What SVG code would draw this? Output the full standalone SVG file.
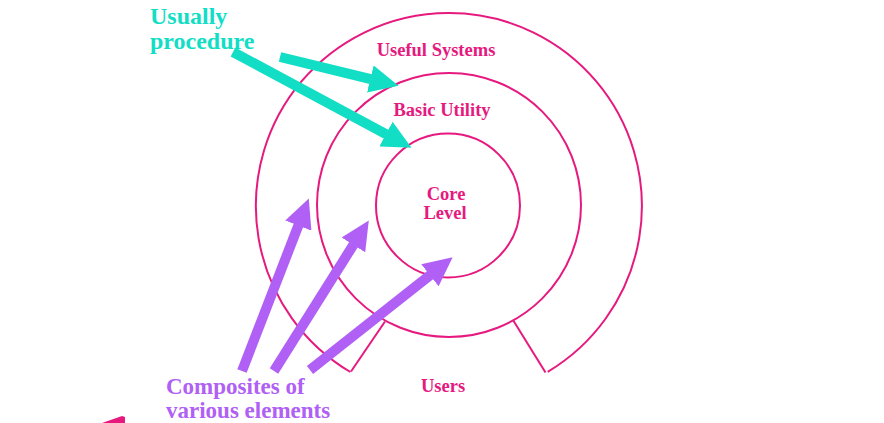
<svg xmlns="http://www.w3.org/2000/svg" width="884" height="423" viewBox="0 0 884 423">
<style>
.ring{fill:none;stroke:#E6197F;stroke-width:2}
.lbl{font-family:"Liberation Serif","Times New Roman",serif;font-weight:bold;font-size:18.5px;fill:#E6197F;text-anchor:middle}
.teal{font-family:"Liberation Serif","Times New Roman",serif;font-weight:bold;font-size:24px;fill:#12DEC6}
.purp{font-family:"Liberation Serif","Times New Roman",serif;font-weight:bold;font-size:23px;fill:#B060F5}
.ta{stroke:#12DEC6;stroke-width:10;fill:none;marker-end:url(#headT)}
.pa{stroke:#B060F5;stroke-width:10;fill:none;marker-end:url(#headP)}
</style>
<defs>
<marker id="headT" markerUnits="userSpaceOnUse" viewBox="0 0 29 28" markerWidth="29" markerHeight="28" refX="0.5" refY="14" orient="auto"><path d="M0,0 L29,14 L0,28 Z" fill="#12DEC6"/></marker>
<marker id="headP" markerUnits="userSpaceOnUse" viewBox="0 0 29 28" markerWidth="29" markerHeight="28" refX="0.5" refY="14" orient="auto"><path d="M0,0 L29,14 L0,28 Z" fill="#B060F5"/></marker>
</defs>
<rect width="884" height="423" fill="#ffffff"/>
<g id="useful-systems">
<path class="ring" d="M350.4,372 A193,193 0 1 1 547.7,371.8"/>
<line class="ring" x1="351" y1="371.5" x2="385" y2="321.5"/>
<line class="ring" x1="513" y1="320" x2="545.5" y2="372.5"/>
<text class="lbl" x="436" y="56">Useful Systems</text>
</g>
<g id="basic-utility">
<circle class="ring" cx="449" cy="205" r="132"/>
<text class="lbl" x="442" y="116">Basic Utility</text>
</g>
<g id="core-level">
<circle class="ring" cx="448" cy="205.5" r="72"/>
<text class="lbl" x="446" y="200">Core</text>
<text class="lbl" x="445" y="219">Level</text>
</g>
<g id="users">
<text class="lbl" x="443" y="392">Users</text>
</g>
<g id="usually-procedure">
<text class="teal" x="150" y="24">Usually</text>
<text class="teal" x="150" y="49">procedure</text>
</g>
<g id="composites">
<text class="purp" x="166" y="394">Composites of</text>
<text class="purp" x="166" y="418">various elements</text>
</g>
<g id="connectors">
<line class="ta" x1="280" y1="57" x2="370.8" y2="79.1"/>
<line class="ta" x1="233" y1="52" x2="386.4" y2="134.3"/>
<line class="pa" x1="242" y1="371" x2="298.5" y2="225.1"/>
<line class="pa" x1="274" y1="371" x2="353.6" y2="244.5"/>
<line class="pa" x1="310" y1="370" x2="430.3" y2="275"/>
<polygon points="102,423 122,416 125,417 125,423" fill="#E6197F"/>
</g>
</svg>
